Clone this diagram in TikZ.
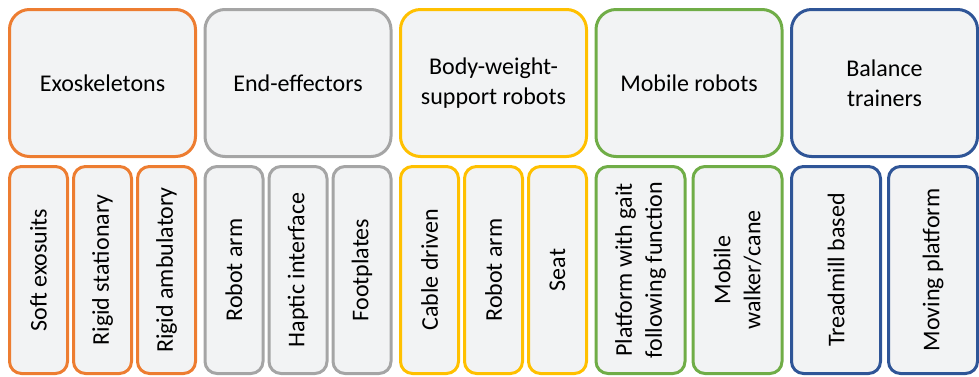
\documentclass[tikz,border=0pt]{standalone}
\usepackage{fontspec}
\setmainfont{Carlito}
\definecolor{cOrange}{HTML}{ED7D31}
\definecolor{cGray}{HTML}{A5A5A5}
\definecolor{cGold}{HTML}{FFC000}
\definecolor{cGreen}{HTML}{70AD47}
\definecolor{cBlue}{HTML}{2F5597}
\definecolor{boxfill}{HTML}{F2F3F4}
\tikzset{
  topbox/.style={draw=#1, fill=boxfill, line width=3pt, rounded corners=20pt,
    minimum width=186pt, minimum height=147pt, inner sep=0pt, align=center,
    font=\fontsize{24}{30}\selectfont},
  subbox/.style={draw=#1, fill=boxfill, line width=3pt, rounded corners=12pt,
    rotate=90, minimum width=207pt, inner sep=0pt, align=center,
    font=\fontsize{24}{30}\selectfont},
  narrow/.style={subbox=#1, minimum height=58pt},
  wide/.style={subbox=#1, minimum height=89pt}
}
\begin{document}
\begin{tikzpicture}[x=1pt, y=-1pt]
\useasboundingbox (0,0) rectangle (979,376);
% top boxes
\node[topbox=cOrange] (exo) at (102.5,83) {Exoskeletons};
\node[topbox=cGray]   (ee)  at (298,83)   {End-effectors};
\node[topbox=cGold]   (bws) at (493.5,83) {Body-weight-\\support robots};
\node[topbox=cGreen]  (mob) at (689,83)   {Mobile robots};
\node[topbox=cBlue]   (bal) at (884.5,83) {Balance\\trainers};
% exoskeletons
\node[narrow=cOrange] (exo1) at (38.5,270)  {Soft exosuits};
\node[narrow=cOrange] (exo2) at (102.5,270) {Rigid stationary};
\node[narrow=cOrange] (exo3) at (166.5,270) {Rigid ambulatory};
% end-effectors
\node[narrow=cGray] (ee1) at (234,270) {Robot arm};
\node[narrow=cGray] (ee2) at (298,270) {Haptic interface};
\node[narrow=cGray] (ee3) at (362,270) {Footplates};
% body weight support
\node[narrow=cGold] (bws1) at (429.5,270) {Cable driven};
\node[narrow=cGold] (bws2) at (493.5,270) {Robot arm};
\node[narrow=cGold] (bws3) at (557.5,270) {Seat};
% mobile robots
\node[wide=cGreen] (mob1) at (640.5,270) {Platform with gait\\following function};
\node[wide=cGreen] (mob2) at (737.5,270) {Mobile\\walker/cane};
% balance trainers
\node[wide=cBlue] (bal1) at (836,270) {Treadmill based};
\node[wide=cBlue] (bal2) at (933,270) {Moving platform};
\end{tikzpicture}
\end{document}
